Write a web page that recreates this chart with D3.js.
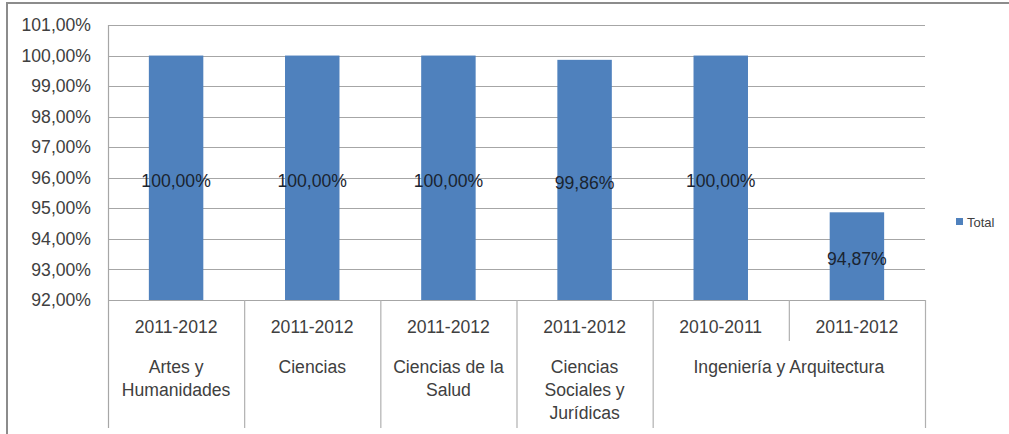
<!DOCTYPE html>
<html><head><meta charset="utf-8">
<script src="https://cdn.jsdelivr.net/npm/d3@7"></script>
<style>body{margin:0;background:#fff}svg{display:block}</style>
</head><body>
<svg id="c" width="1009" height="434"></svg>
<script>
const years = ["2011-2012","2011-2012","2011-2012","2011-2012","2010-2011","2011-2012"];
const values = [1.0, 1.0, 1.0, 0.9986, 1.0, 0.9487];
const groupLabels = [["Artes y","Humanidades"],["Ciencias"],["Ciencias de la","Salud"],["Ciencias","Sociales y","Jurídicas"],["Ingeniería y Arquitectura"]];
const groupSpans = [1,1,1,1,2];
const yTicks = [0.92,0.93,0.94,0.95,0.96,0.97,0.98,0.99,1.00,1.01];
const seriesName = "Total";

(function(){
const svg = d3.select("#c");
const font = "Liberation Sans, Arial, sans-serif";
const fs = 17.6;
const pL = 108, pR = 925, pT = 25, pB = 300, axisBottom = 428;
const idx = d3.range(values.length);
const x = d3.scaleBand().domain(idx).range([pL,pR]).paddingInner(0.6).paddingOuter(0.3);
const step = x.step();
const y = d3.scaleLinear().domain([0.92,1.01]).range([pB,pT]);
const fmt = v => d3.format(".2f")(v*100).replace(".",",")+"%";

// outer border
svg.append("rect").attr("x",7).attr("y",3).attr("width",1020).attr("height",450)
  .attr("fill","none").attr("stroke","#8c8c8c").attr("stroke-width",2);

// gridlines
svg.append("g").selectAll("line").data(yTicks).join("line")
  .attr("x1",pL).attr("x2",pR).attr("y1",d=>Math.round(y(d))+0.5).attr("y2",d=>Math.round(y(d))+0.5)
  .attr("stroke","#a6a6a6").attr("stroke-width",1.2);

// y tick labels
svg.append("g").selectAll("text").data(yTicks).join("text")
  .attr("x",91).attr("y",d=>y(d)).attr("dy","0.35em").attr("text-anchor","end")
  .attr("font-family",font).attr("font-size",fs).attr("fill","#404040").text(fmt);

// bars
svg.append("g").selectAll("rect").data(idx).join("rect")
  .attr("x",i=>x(i)).attr("width",x.bandwidth())
  .attr("y",i=>y(values[i])).attr("height",i=>y(0.92)-y(values[i]))
  .attr("fill","#4f81bd");

// data labels
svg.append("g").selectAll("text").data(idx).join("text")
  .attr("x",i=>x(i)+x.bandwidth()/2).attr("y",i=>(y(values[i])+y(0.92))/2+3)
  .attr("dy","0.35em").attr("text-anchor","middle")
  .attr("font-family",font).attr("font-size",fs).attr("fill","#1a2430").text(i=>fmt(values[i]));

// axis lines
const slotX = i => pL + i*step;
svg.append("line").attr("x1",pL+0.5).attr("x2",pL+0.5).attr("y1",pT).attr("y2",axisBottom).attr("stroke","#a6a6a6").attr("stroke-width",1.2);
let acc = 0;
const bounds = [0];
groupSpans.forEach(s=>{acc+=s;bounds.push(acc);});
svg.append("g").selectAll("line").data(bounds.slice(1)).join("line")
  .attr("x1",b=>slotX(b)+0.5).attr("x2",b=>slotX(b)+0.5).attr("y1",pB).attr("y2",axisBottom)
  .attr("stroke","#b0b0b0").attr("stroke-width",1.2);
const inner = [];
bounds.slice(0,-1).forEach((b,gi)=>{for(let k=1;k<groupSpans[gi];k++) inner.push(b+k);});
svg.append("g").selectAll("line").data(inner).join("line")
  .attr("x1",b=>slotX(b)+0.5).attr("x2",b=>slotX(b)+0.5).attr("y1",pB).attr("y2",341)
  .attr("stroke","#b0b0b0").attr("stroke-width",1.2);

// year labels
svg.append("g").selectAll("text").data(idx).join("text")
  .attr("x",i=>x(i)+x.bandwidth()/2).attr("y",333).attr("text-anchor","middle")
  .attr("font-family",font).attr("font-size",fs).attr("fill","#404040").text(i=>years[i]);

// group labels
groupLabels.forEach((lines,gi)=>{
  const cx = (slotX(bounds[gi])+slotX(bounds[gi+1]))/2;
  svg.append("g").selectAll("text").data(lines).join("text")
    .attr("x",cx).attr("y",(d,j)=>373+j*23).attr("text-anchor","middle")
    .attr("font-family",font).attr("font-size",fs).attr("fill","#404040").text(d=>d);
});

// legend
svg.append("rect").attr("x",956).attr("y",218).attr("width",7).attr("height",7).attr("fill","#4f81bd");
svg.append("text").attr("x",967).attr("y",222).attr("dy","0.35em")
  .attr("font-family",font).attr("font-size",13).attr("fill","#404040").text(seriesName);
})();
</script>
</body></html>
